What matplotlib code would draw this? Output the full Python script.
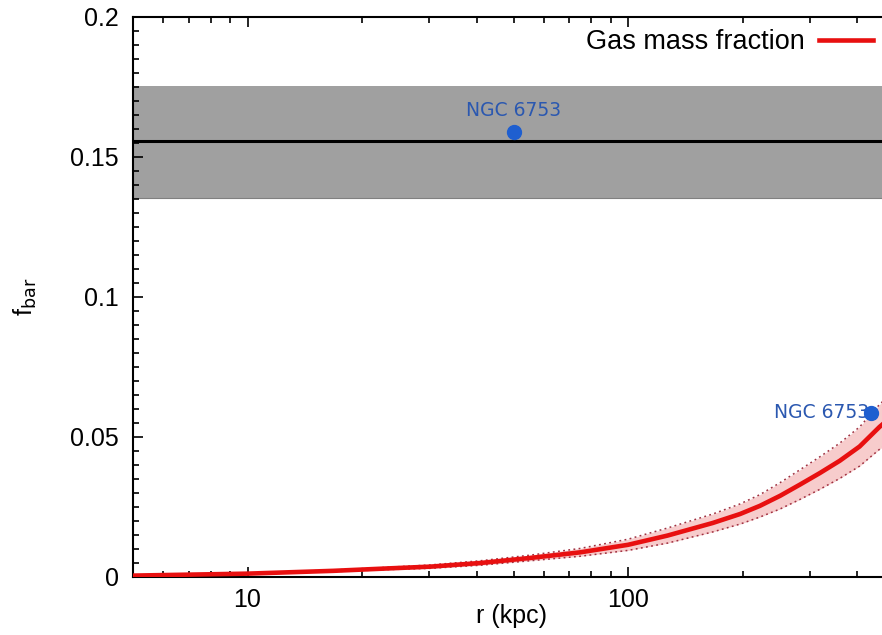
import numpy as np
import matplotlib.pyplot as plt
from matplotlib.ticker import LogLocator, MultipleLocator, FixedLocator, NullFormatter

plt.rcParams['font.family'] = ['Liberation Sans', 'DejaVu Sans']

# gas mass fraction profile
r_gas = [5, 10, 16.8, 22.8, 30.2, 40.9, 55.3, 74.8, 100, 127, 167, 197, 222, 251,
         283, 319, 360, 406, 458, 500]
f_gas = [0.0005, 0.0012, 0.0022, 0.003, 0.0037, 0.005, 0.0068, 0.0088, 0.0115,
         0.0148, 0.0193, 0.0225, 0.0254, 0.029, 0.033, 0.0371, 0.0415, 0.0466,
         0.0536, 0.058]
f_err = [0.0001, 0.0002, 0.0003, 0.0004, 0.0006, 0.0008, 0.001, 0.0014, 0.002,
         0.0027, 0.0032, 0.0036, 0.004, 0.0047, 0.0053, 0.0058, 0.0063, 0.007,
         0.008, 0.0085]

# cosmic baryon fraction and its band
f_cosmic = 0.1557
f_cosmic_lo = 0.1355
f_cosmic_hi = 0.1755

# NGC 6753 points
ngc_r = [50, 436]
ngc_f = [0.1588, 0.0587]
ngc_name = "NGC 6753"

r_gas = np.array(r_gas)
f_gas = np.array(f_gas)
f_err = np.array(f_err)

fig = plt.figure(figsize=(8.82, 6.35), dpi=100)
ax = fig.add_axes([133/882, 58/635, 761/882, 560/635])

ax.axhspan(f_cosmic_lo, f_cosmic_hi, color='#a0a0a0', lw=0, zorder=1)
ax.axhline(f_cosmic_lo, color='#808080', lw=0.8, zorder=1)
ax.axhline(f_cosmic, color='black', lw=2.2, zorder=2)

ax.fill_between(r_gas, f_gas - f_err, f_gas + f_err, color='#f7cccc', lw=0, zorder=2)
ax.plot(r_gas, f_gas - f_err, color='#a03040', lw=1.1, ls=(0, (1.2, 2.2)), zorder=3)
ax.plot(r_gas, f_gas + f_err, color='#a03040', lw=1.1, ls=(0, (1.2, 2.2)), zorder=3)
ax.plot(r_gas, f_gas, color='#e81010', lw=3.3, zorder=4, label='Gas mass fraction')

ax.plot(ngc_r, ngc_f, 'o', color='#1f5fd0', ms=10, zorder=5)
ax.text(ngc_r[0], ngc_f[0] + 0.0045, ngc_name, color='#2b58b0', fontsize=13.5,
        family='DejaVu Sans', ha='center', va='bottom')
ax.text(ngc_r[1] * 0.985, ngc_f[1], ngc_name, color='#2b58b0', fontsize=13.5,
        family='DejaVu Sans', ha='right', va='center')

ax.set_xscale('log')
ax.set_xlim(5, 500)
ax.set_ylim(0, 0.2)

ax.xaxis.set_major_locator(FixedLocator([10, 100]))
ax.set_xticklabels(['10', '100'])
ax.xaxis.set_minor_locator(LogLocator(base=10, subs=np.arange(2, 10)))
ax.xaxis.set_minor_formatter(NullFormatter())
ax.set_yticks([0, 0.05, 0.1, 0.15, 0.2])
ax.set_yticklabels(['0', '0.05', '0.1', '0.15', '0.2'])
ax.yaxis.set_minor_locator(MultipleLocator(0.005))

ax.tick_params(which='both', direction='in', top=True, right=True, width=1.2)
ax.tick_params(which='major', length=7, labelsize=18)
ax.tick_params(which='minor', length=4)
ax.tick_params(axis='y', pad=10)
ax.tick_params(axis='x', pad=8)
for s in ax.spines.values():
    s.set_linewidth(1.5)

leg = ax.legend(loc='center right', bbox_to_anchor=(0.972, 0.955), frameon=False,
                markerfirst=False, fontsize=19.5, handlelength=2.0, handletextpad=0.5,
                borderpad=0, borderaxespad=0)

fig.text(25/882, 1 - 297/635, r'f$_{\rm bar}$', rotation=90, fontsize=18,
         ha='center', va='center')
fig.text(511/882, 1 - 616/635, 'r (kpc)', fontsize=18, ha='center', va='center')

fig.savefig('out.png', dpi=100)
